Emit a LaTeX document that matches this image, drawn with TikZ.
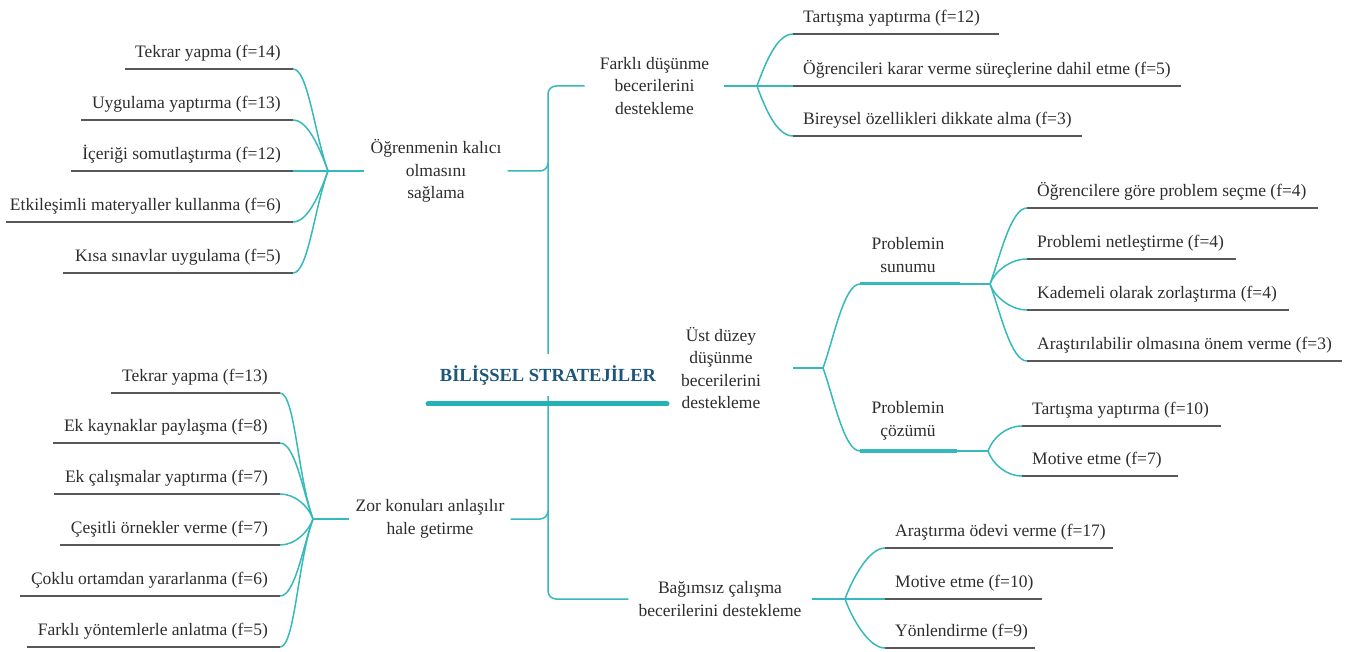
\documentclass[tikz,border=0pt]{standalone}
\usepackage{fontspec}
\setmainfont{Liberation Serif}
\definecolor{tealc}{RGB}{54,185,186}
\definecolor{barc}{RGB}{36,178,184}
\definecolor{titlec}{RGB}{28,86,120}
\definecolor{ulc}{RGB}{88,88,88}
\definecolor{txtc}{RGB}{45,45,45}
\newcommand\dfont{\fontsize{17.5}{22.5}\selectfont}
\newcommand\tfont{\fontsize{18.5}{22}\selectfont\bfseries}
\begin{document}
\begin{tikzpicture}[x=1pt,y=1pt,
 conn/.style={draw=tealc,line width=1.5pt},
 uline/.style={draw=ulc,line width=1.5pt},
 bar/.style={draw=barc,line width=5pt,line cap=round},
 subbar/.style={draw=tealc,line width=3pt},
 lleaf/.style={anchor=south east,inner xsep=12pt,inner ysep=0pt,text depth=11pt,font=\dfont,text=txtc},
 rleaf/.style={anchor=south west,inner xsep=10pt,inner ysep=0pt,text depth=11pt,font=\dfont,text=txtc},
 topic/.style={align=center,font=\dfont,text=txtc,inner ysep=2pt},
 lup/.style={out=110,in=0,out distance=#1,in distance=15pt},
 ldn/.style={out=-110,in=0,out distance=#1,in distance=15pt},
 rup/.style={out=70,in=180,out distance=#1,in distance=16pt},
 rdn/.style={out=-70,in=180,out distance=#1,in distance=16pt}]
\useasboundingbox (0,0) rectangle (1346,651);

% ---------- topic nodes ----------
\node[topic,inner xsep=6pt] (ogr) at (436,480) {Öğrenmenin kalıcı\\olmasını\\sağlama};
\node[topic,inner xsep=6pt] (zor) at (430,132) {Zor konuları anlaşılır\\hale getirme};
\node[topic,inner xsep=15pt] (far) at (654.5,565) {Farklı düşünme\\becerilerini\\destekleme};
\node[topic,inner xsep=32pt] (ust) at (721,283) {Üst düzey\\düşünme\\becerilerini\\destekleme};
\node[topic,inner xsep=10pt] (bag) at (720,52) {Bağımsız çalışma\\becerilerini destekleme};
\node[topic] (ps) at (908,396) {Problemin\\sunumu};
\node[topic] (pc) at (908,230) {Problemin\\çözümü};

% ---------- trunk ----------
\draw[conn,rounded corners=8pt] (far.west) -- (548,565) -- (548,52) -- (bag.west);
\draw[conn] (ogr.east) -- (540,480) to[out=0,in=-90] (548,488);
\draw[conn] (zor.east) -- (540,132) to[out=0,in=-90] (548,140);

% ---------- root ----------
\node[fill=white,text=titlec,font=\tfont,inner xsep=4pt,inner ysep=11pt] (root) at (548,276) {BİLİŞSEL STRATEJİLER};
\coordinate (barL) at (428,247);
\coordinate (barR) at (667,247);
\draw[bar] (barL) -- (barR);

% ---------- left top ----------
\coordinate (ca) at (328,480);
\node[lleaf] (a1) at (293,582) {Tekrar yapma (f=14)};
\node[lleaf] (a2) at (293,531) {Uygulama yaptırma (f=13)};
\node[lleaf] (a3) at (293,480) {İçeriği somutlaştırma (f=12)};
\node[lleaf] (a4) at (293,429) {Etkileşimli materyaller kullanma (f=6)};
\node[lleaf] (a5) at (293,378) {Kısa sınavlar uygulama (f=5)};
\draw[uline] (a1.south east) -- ++(-168,0);
\draw[uline] (a2.south east) -- ++(-212,0);
\draw[uline] (a3.south east) -- ++(-222,0);
\draw[uline] (a4.south east) -- ++(-287,0);
\draw[uline] (a5.south east) -- ++(-230,0);
\draw[conn] (ogr.west) -- (ca);
\draw[conn] (ca) to[lup=40pt] (a1.south east);
\draw[conn] (ca) to[lup=24pt] (a2.south east);
\draw[conn] (ca) -- (a3.south east);
\draw[conn] (ca) to[ldn=24pt] (a4.south east);
\draw[conn] (ca) to[ldn=40pt] (a5.south east);

% ---------- left bottom ----------
\coordinate (cb) at (313,132);
\node[lleaf] (b1) at (280,258) {Tekrar yapma (f=13)};
\node[lleaf] (b2) at (280,208) {Ek kaynaklar paylaşma (f=8)};
\node[lleaf] (b3) at (280,157) {Ek çalışmalar yaptırma (f=7)};
\node[lleaf] (b4) at (280,106) {Çeşitli örnekler verme (f=7)};
\node[lleaf] (b5) at (280,55) {Çoklu ortamdan yararlanma (f=6)};
\node[lleaf] (b6) at (280,4) {Farklı yöntemlerle anlatma (f=5)};
\draw[uline] (b1.south east) -- ++(-169,0);
\draw[uline] (b2.south east) -- ++(-227,0);
\draw[uline] (b3.south east) -- ++(-226,0);
\draw[uline] (b4.south east) -- ++(-220,0);
\draw[uline] (b5.south east) -- ++(-260,0);
\draw[uline] (b6.south east) -- ++(-253,0);
\draw[conn] (zor.west) -- (cb);
\draw[conn] (cb) to[lup=45pt] (b1.south east);
\draw[conn] (cb) to[lup=30pt] (b2.south east);
\draw[conn] (cb) to[lup=14pt] (b3.south east);
\draw[conn] (cb) to[ldn=14pt] (b4.south east);
\draw[conn] (cb) to[ldn=30pt] (b5.south east);
\draw[conn] (cb) to[ldn=45pt] (b6.south east);

% ---------- Farkli ----------
\coordinate (cf) at (757,565);
\node[rleaf] (f1) at (793,617) {Tartışma yaptırma (f=12)};
\node[rleaf] (f2) at (793,565) {Öğrencileri karar verme süreçlerine dahil etme (f=5)};
\node[rleaf] (f3) at (793,515) {Bireysel özellikleri dikkate alma (f=3)};
\draw[uline] (f1.south west) -- ++(206,0);
\draw[uline] (f2.south west) -- ++(388,0);
\draw[uline] (f3.south west) -- ++(289,0);
\draw[conn] (far.east) -- (cf);
\draw[conn] (cf) to[rup=25pt] (f1.south west);
\draw[conn] (cf) -- (f2.south west);
\draw[conn] (cf) to[rdn=25pt] (f3.south west);

% ---------- Ust duzey ----------
\coordinate (cu) at (823,283);
\coordinate (psL) at (860,367);
\coordinate (psR) at (960,367);
\coordinate (psC) at (990,367);
\coordinate (pcL) at (860,200);
\coordinate (pcR) at (957,200);
\coordinate (pcC) at (988,200);
\draw[conn] (ust.east) -- (cu);
\draw[conn] (cu) to[rup=32pt] (psL);
\draw[conn] (cu) to[rdn=32pt] (pcL);
\draw[subbar] (psL) -- (psR);
\draw[conn] (psR) -- (psC);
\draw[subbar] (pcL) -- (pcR);
\draw[conn] (pcR) -- (pcC);

\node[rleaf] (s1) at (1027,443) {Öğrencilere göre problem seçme (f=4)};
\node[rleaf] (s2) at (1027,392) {Problemi netleştirme (f=4)};
\node[rleaf] (s3) at (1027,341) {Kademeli olarak zorlaştırma (f=4)};
\node[rleaf] (s4) at (1027,290) {Araştırılabilir olmasına önem verme (f=3)};
\draw[uline] (s1.south west) -- ++(291,0);
\draw[uline] (s2.south west) -- ++(209,0);
\draw[uline] (s3.south west) -- ++(262,0);
\draw[uline] (s4.south west) -- ++(315,0);
\draw[conn] (psC) to[rup=30pt] (s1.south west);
\draw[conn] (psC) to[rup=14pt] (s2.south west);
\draw[conn] (psC) to[rdn=14pt] (s3.south west);
\draw[conn] (psC) to[rdn=30pt] (s4.south west);

\node[rleaf] (c1) at (1022,225) {Tartışma yaptırma (f=10)};
\node[rleaf] (c2) at (1022,175) {Motive etme (f=7)};
\draw[uline] (c1.south west) -- ++(199,0);
\draw[uline] (c2.south west) -- ++(156,0);
\draw[conn] (pcC) to[rup=14pt] (c1.south west);
\draw[conn] (pcC) to[rdn=14pt] (c2.south west);

% ---------- Bagimsiz ----------
\coordinate (cg) at (845,52);
\node[rleaf] (g1) at (885,103) {Araştırma ödevi verme (f=17)};
\node[rleaf] (g2) at (885,52) {Motive etme (f=10)};
\node[rleaf] (g3) at (885,3) {Yönlendirme (f=9)};
\draw[uline] (g1.south west) -- ++(228,0);
\draw[uline] (g2.south west) -- ++(157,0);
\draw[uline] (g3.south west) -- ++(150,0);
\draw[conn] (bag.east) -- (cg);
\draw[conn] (cg) to[rup=22pt] (g1.south west);
\draw[conn] (cg) -- (g2.south west);
\draw[conn] (cg) to[rdn=22pt] (g3.south west);
\end{tikzpicture}
\end{document}
